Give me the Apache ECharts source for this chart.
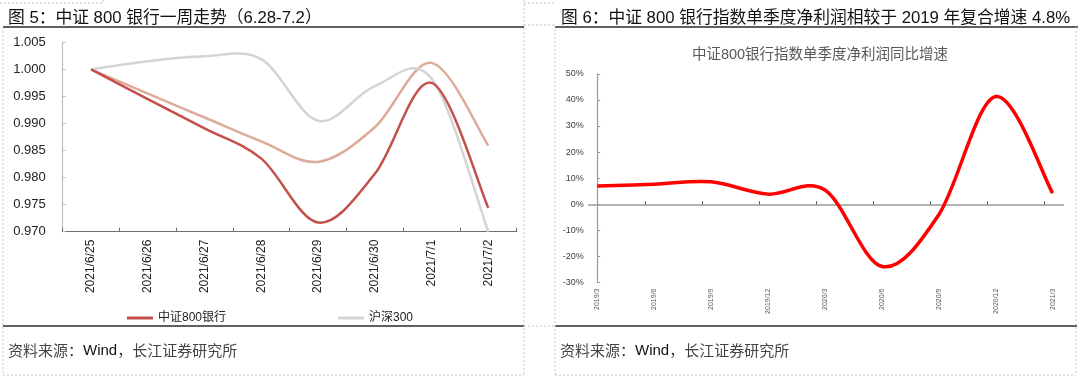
<!DOCTYPE html>
<html><head><meta charset="utf-8">
<script src="https://cdn.jsdelivr.net/npm/echarts@6/dist/echarts.min.js"></script>
<style>html,body{margin:0;padding:0;background:#fff}#c{width:1080px;height:379px}</style>
</head><body><div id="c"></div>
<script>
// ---- data (left chart) ----
const dates = ['2021/6/25','2021/6/26','2021/6/27','2021/6/28','2021/6/29','2021/6/30','2021/7/1','2021/7/2'];
const bank800 = [1.000, 0.9945, 0.9891, 0.9835, 0.9717, 0.9807, 0.9975, 0.9744];
const hs300 = [1.000, 1.0015, 1.0024, 1.0019, 0.9905, 0.9969, 0.9983, 0.9700];
const series3 = [1.000, 0.9955, 0.9911, 0.9867, 0.9829, 0.9893, 1.0012, 0.9859];
const leftYTicks = {min: 0.970, max: 1.005, step: 0.005};
// ---- data (right chart) ----
const quarters = ['2019/3','2019/6','2019/9','2019/12','2020/3','2020/6','2020/9','2020/12','2021/3'];
const growth = [7.0, 7.7, 8.6, 3.9, 5.5, -23.8, -4.0, 41.3, 4.3];
const rightYTicks = {min: -30, max: 50, step: 10};

const FONT = "'Liberation Sans', 'Noto Sans CJK SC', sans-serif";
const chart = echarts.init(document.getElementById('c'), null, {renderer: 'canvas'});

const rightTickVals = [];
for (let k = 1; k <= 8; k++) rightTickVals.push(k - 0.151);
const rightLabelVals = quarters.map((q, i) => i);

// Excel-style smoothed line (cardinal/Catmull-Rom bezier) through points mapped by the axes
function smoothPath(pts) {
  let d = 'M' + pts[0][0] + ',' + pts[0][1];
  const n = pts.length;
  for (let i = 0; i < n - 1; i++) {
    const p0 = pts[Math.max(i - 1, 0)], p1 = pts[i], p2 = pts[i + 1], p3 = pts[Math.min(i + 2, n - 1)];
    const c1x = p1[0] + (p2[0] - p0[0]) / 6, c1y = p1[1] + (p2[1] - p0[1]) / 6;
    const c2x = p2[0] - (p3[0] - p1[0]) / 6, c2y = p2[1] - (p3[1] - p1[1]) / 6;
    d += ' C' + c1x + ',' + c1y + ' ' + c2x + ',' + c2y + ' ' + p2[0] + ',' + p2[1];
  }
  return d;
}
function smoothSeries(name, values, xi, yi, color, width, z) {
  return {
    name, type: 'custom', xAxisIndex: xi, yAxisIndex: yi, z,
    data: values.map((v, i) => [i, v]),
    encode: {x: 0, y: 1},
    itemStyle: {color},
    renderItem: (params, api) => {
      if (params.dataIndex !== 0) return null;
      const pts = values.map((v, i) => api.coord([i, v]));
      return {type: 'path', shape: {pathData: smoothPath(pts)},
              style: {fill: 'none', stroke: color, lineWidth: width, lineJoin: 'round', lineCap: 'butt'}};
    }
  };
}

const dashed = {stroke: '#c8c8c8', lineWidth: 1, lineDash: [2, 2]};
const solid = {stroke: '#2a2a2a', lineWidth: 1.5};
function ln(x1, y1, x2, y2, style) {
  return {type: 'line', silent: true, shape: {x1, y1, x2, y2}, style};
}

const footRich = {
  a: {fontSize: 15, color: '#444', fontWeight: 'normal', fontFamily: "'Noto Sans CJK SC', sans-serif"},
  b: {fontSize: 15, color: '#111', fontWeight: 'normal', fontFamily: FONT}
};

const option = {
  animation: false,
  backgroundColor: '#fff',
  textStyle: {fontFamily: FONT},
  title: [
    {text: '图 5：中证 800 银行一周走势（6.28-7.2）', left: 3, top: 5,
     textStyle: {fontSize: 16.75, fontWeight: 'normal', color: '#111', fontFamily: FONT}},
    {text: '图 6：中证 800 银行指数单季度净利润相较于 2019 年复合增速 4.8%', left: 556, top: 5,
     textStyle: {fontSize: 16.75, fontWeight: 'normal', color: '#111', fontFamily: FONT}},
    {text: '中证800银行指数单季度净利润同比增速', left: 815, top: 43, textAlign: 'center',
     textStyle: {fontSize: 14.5, fontWeight: 'normal', color: '#595959', fontFamily: FONT}},
    {text: '{a|资料来源：}{b|Wind}{a|，长江证券研究所}', left: 3, top: 338,
     textStyle: {fontWeight: 'normal', rich: footRich}},
    {text: '{a|资料来源：}{b|Wind}{a|，长江证券研究所}', left: 555, top: 338,
     textStyle: {fontWeight: 'normal', rich: footRich}}
  ],
  legend: [
    {data: ['中证800银行'], left: 122, top: 307, icon: 'rect', itemWidth: 26, itemHeight: 3,
     textStyle: {fontSize: 12, color: '#222', fontFamily: FONT}},
    {data: ['沪深300'], left: 333, top: 307, icon: 'rect', itemWidth: 26, itemHeight: 3,
     textStyle: {fontSize: 12, color: '#222', fontFamily: FONT}}
  ],
  grid: [
    {left: 62.7, right: 1080 - 516.7, top: 42.3, bottom: 379 - 231.7, containLabel: false},
    {left: 588.7, right: 1080 - 1063.4, top: 73.8, bottom: 379 - 282.6, containLabel: false}
  ],
  xAxis: [
    {type: 'category', gridIndex: 0, data: dates, boundaryGap: true,
     axisLine: {lineStyle: {color: '#6e6e6e', width: 1.2}},
     axisTick: {show: true, inside: true, length: 4, lineStyle: {color: '#6e6e6e'}},
     axisLabel: {rotate: 90, fontSize: 12, margin: 8, color: '#222', fontFamily: FONT},
     splitLine: {show: false}},
    {type: 'value', gridIndex: 1, min: -0.151, max: 8.19, position: 'bottom',
     axisLine: {onZero: true, lineStyle: {color: '#9a9a9a', width: 1.5}},
     axisTick: {show: true, inside: true, length: 3, customValues: rightTickVals, lineStyle: {color: '#555'}},
     axisLabel: {show: false},
     splitLine: {show: false}},
    {type: 'value', gridIndex: 1, min: -0.151, max: 8.19, position: 'bottom',
     axisLine: {show: false, onZero: false},
     axisTick: {show: false},
     axisLabel: {show: true, customValues: rightLabelVals, rotate: 90, fontSize: 7, margin: 6, color: '#595959',
                 formatter: v => quarters[Math.round(v)], fontFamily: FONT},
     splitLine: {show: false}}
  ],
  yAxis: [
    {type: 'value', gridIndex: 0, min: leftYTicks.min, max: leftYTicks.max, interval: leftYTicks.step,
     axisLine: {show: true, lineStyle: {color: '#bfbfbf', width: 1.2}},
     axisTick: {show: true, inside: true, length: 3, lineStyle: {color: '#bfbfbf'}},
     axisLabel: {fontSize: 13, margin: 17, color: '#222', formatter: v => v.toFixed(3), fontFamily: FONT},
     splitLine: {show: false}},
    {type: 'value', gridIndex: 1, min: rightYTicks.min, max: rightYTicks.max, interval: rightYTicks.step,
     axisLine: {show: true, lineStyle: {color: '#9a9a9a', width: 1.2}},
     axisTick: {show: true, inside: true, length: 3, lineStyle: {color: '#9a9a9a'}},
     axisLabel: {fontSize: 9, margin: 5, color: '#404040', formatter: v => v + '%', fontFamily: FONT},
     splitLine: {show: false}}
  ],
  series: [
    smoothSeries('系列3', series3, 0, 0, '#dcab9a', 2.5, 2),
    smoothSeries('沪深300', hs300, 0, 0, '#d4d4d4', 2.5, 3),
    smoothSeries('中证800银行', bank800, 0, 0, '#c4504c', 2.5, 4),
    smoothSeries('净利润同比', growth, 1, 1, '#ff0000', 3.5, 2)
  ],
  graphic: [
    ln(3, 27, 524, 27, solid),
    ln(555, 27, 1078, 27, solid),
    ln(3, 326, 524, 326, solid),
    ln(555, 326, 1077, 326, solid),
    ln(3, 27, 3, 375, dashed),
    ln(3, 375, 524, 375, dashed),
    ln(524, 0, 524, 375, dashed),
    ln(0, 3, 103, 3, dashed),
    ln(103, 0, 103, 3, dashed),
    ln(524, 3, 555, 3, dashed),
    ln(524, 25, 555, 25, dashed),
    ln(524, 326, 555, 326, dashed),
    ln(555, 25, 555, 375, dashed),
    ln(555, 375, 1076, 375, dashed),
    ln(1076, 27, 1076, 375, dashed)
  ]
};
chart.setOption(option);
</script>
</body></html>
